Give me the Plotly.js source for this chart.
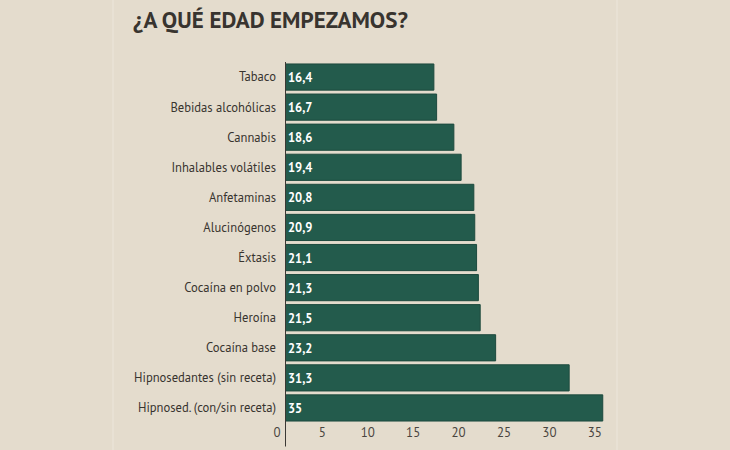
<!DOCTYPE html>
<html>
<head>
<meta charset="utf-8">
<script src="https://cdn.plot.ly/plotly-3.0.1.min.js"></script>
<style>
html,body{margin:0;padding:0;background:#e4dccd;}
#chart{width:730px;height:450px;}
</style>
</head>
<body>
<div id="chart"></div>
<script>
const categories = [
  "Tabaco",
  "Bebidas alcohólicas",
  "Cannabis",
  "Inhalables volátiles",
  "Anfetaminas",
  "Alucinógenos",
  "Éxtasis",
  "Cocaína en polvo",
  "Heroína",
  "Cocaína base",
  "Hipnosedantes (sin receta)",
  "Hipnosed. (con/sin receta)"
];
const ages = [16.4, 16.7, 18.6, 19.4, 20.8, 20.9, 21.1, 21.3, 21.5, 23.2, 31.3, 35];
const tickValues = [0, 5, 10, 15, 20, 25, 30, 35];
const titleText = "¿A QUÉ EDAD EMPEZAMOS?";

const labelFont = "'PT Sans', 'DejaVu Sans Condensed', 'Liberation Sans Narrow', Roboto, sans-serif";

const trace = {
  type: 'bar',
  orientation: 'h',
  y: categories,
  x: ages,
  text: ages.map(v => String(v).replace('.', ',')),
  textposition: 'inside',
  insidetextanchor: 'start',
  textangle: 0,
  constraintext: 'none',
  textfont: {family: labelFont, size: 12.5, color: '#ffffff', weight: 'bold'},
  marker: {color: '#235b4c', line: {color: '#1d4a3e', width: 1}},
  hoverinfo: 'skip'
};

const layout = {
  width: 730,
  height: 450,
  paper_bgcolor: '#e4dccd',
  plot_bgcolor: '#e4dccd',
  margin: {l: 285, r: 100, t: 62, b: 27},
  bargap: 0.13,
  showlegend: false,
  title: {
    text: titleText,
    font: {family: "'PT Sans', 'DejaVu Sans Condensed', sans-serif", size: 23, color: '#38342f', weight: 'bold'},
    x: 133 / 730, xref: 'container', xanchor: 'left',
    y: 1 - 20 / 450, yref: 'container', yanchor: 'middle'
  },
  xaxis: {
    range: [0, 38],
    tickvals: tickValues,
    ticktext: tickValues.map(String),
    showgrid: false,
    zeroline: false,
    showline: false,
    ticks: '',
    ticklabelshift: -8,
    tickfont: {family: labelFont, size: 13, color: '#4a4540'},
    fixedrange: true
  },
  yaxis: {
    autorange: 'reversed',
    showgrid: false,
    zeroline: false,
    showline: false,
    ticks: '',
    ticklabelstandoff: 8,
    tickfont: {family: labelFont, size: 12.6, color: '#38342f'},
    fixedrange: true
  },
  shapes: [
    {type: 'line', xref: 'x', yref: 'paper', x0: 0, x1: 0, y0: -0.065, y1: 1, line: {color: '#3b3935', width: 2}, layer: 'above'},
    {type: 'line', xref: 'paper', yref: 'paper', x0: (113 - 285) / 345, x1: (113 - 285) / 345, y0: -0.1, y1: 1.2, line: {color: '#ece6db', width: 1}},
    {type: 'line', xref: 'paper', yref: 'paper', x0: (617 - 285) / 345, x1: (617 - 285) / 345, y0: -0.1, y1: 1.2, line: {color: '#ece6db', width: 1}}
  ]
};

Plotly.newPlot('chart', [trace], layout, {displayModeBar: false, staticPlot: true});
</script>
</body>
</html>
